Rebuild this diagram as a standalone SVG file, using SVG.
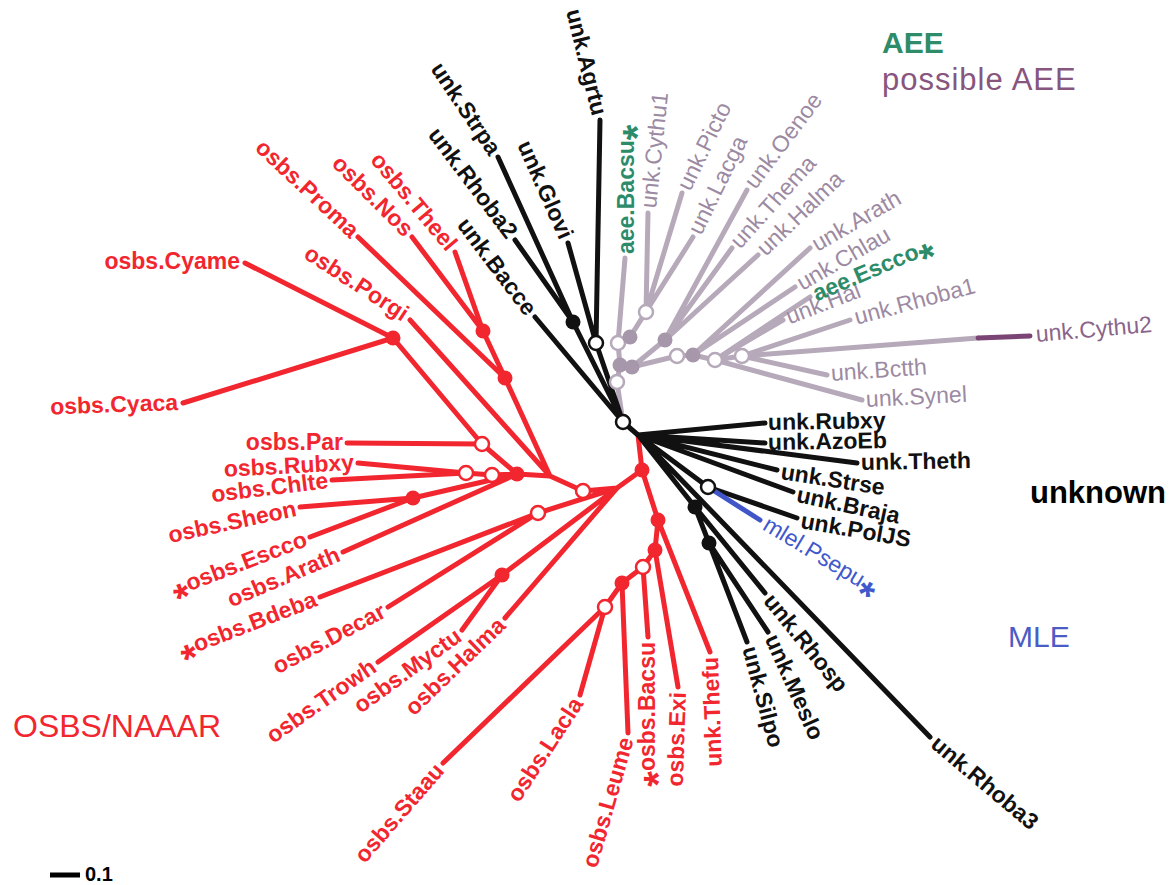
<svg xmlns="http://www.w3.org/2000/svg" width="1172" height="885" viewBox="0 0 1172 885">
<style>
text{font-family:"Liberation Sans",Arial,sans-serif;font-size:23px}
.lr{fill:#f2262f;font-weight:bold}
.lk{fill:#111;font-weight:bold}
.lg{fill:#9c8aa2}
.lgr{fill:#2c8c69;font-weight:bold}
.lb{fill:#4058cc}
.e{fill:none;stroke-width:5;stroke-linecap:round}
.r{stroke:#f2262f}
.k{stroke:#111}
.g{stroke:#b6a9ba}
.bl{stroke:#3f55c8}
.pu{stroke:#7a4474}
.fr{fill:#f2262f}
.fk{fill:#111}
.fg{fill:#a797aa}
.or{fill:#fff;stroke:#f2262f;stroke-width:2.5}
.ok{fill:#fff;stroke:#111;stroke-width:2.5}
.og{fill:#fff;stroke:#b6a9ba;stroke-width:2.5}
.ast{font-size:40px;font-weight:bold}
</style>
<rect width="1172" height="885" fill="#fff"/>
<g id="connectors">
<path class="e r" d="M638,435L642,470M642,470L658,520M658,520L710,652M658,520L655,550M655,550L678,687M655,550L643,567M643,567L648,637M643,567L622,583M622,583L628,733M622,583L605,607M605,607L580,695M605,607L443,763M642,470L617,488M617,488L583,491M583,491L550,476M550,476L410,320M550,476L505,378M505,378L483,331M483,331L412,237M483,331L455,252M505,378L358,237M550,476L517,474M517,474L482,444M482,444L347,443M482,444L393,338M393,338L245,263M393,338L183,403M517,474L492,475M492,475L466,473M466,473L358,463M466,473L332,480M517,474L413,498M413,498L300,507M413,498L310,537M517,474L343,552M617,488L538,513M538,513L320,597M538,513L388,607M617,488L502,575M502,575L378,662M502,575L462,630M617,488L505,618"/>
<path class="e g" d="M623,422L617,382M617,382L620,365M620,365L618,343M618,343L625,258M618,343L630,337M630,337L646,312M646,312L648,213M646,312L682,193M630,337L693,237M620,365L632,367M632,367L665,340M665,340L747,190M665,340L732,248M665,340L758,255M632,367L677,356M677,356L693,355M693,355L810,248M693,355L795,287M693,355L715,360M715,360L810,297M715,360L783,320M715,360L862,400M715,360L742,356M742,356L850,320M742,356L978,338M742,356L827,375"/>
<path class="e pu" d="M978,338L1030,336"/>
<path class="e k" d="M623,422L638,435M623,422L573,322M573,322L498,157M573,322L515,240M623,422L596,343M596,343L568,243M596,343L600,120M623,422L535,317M638,435L765,423M638,435L765,443M638,435L857,463M638,435L777,470M638,435L793,492M638,435L708,487M708,487L797,518M638,435L695,507M695,507L765,593M695,507L709,543M709,543L768,632M709,543L747,642M638,435L930,737"/>
<path class="e bl" d="M708,487L760,520"/>
</g>
<g id="internal-nodes">
<g id="n-E"><circle class="fr" cx="642" cy="470" r="7.5"/></g>
<g id="n-F"><circle class="fr" cx="658" cy="520" r="7.5"/></g>
<g id="n-G"><circle class="fr" cx="655" cy="550" r="7.5"/></g>
<g id="n-H"><circle class="or" cx="643" cy="567" r="7"/></g>
<g id="n-I"><circle class="fr" cx="622" cy="583" r="7.5"/></g>
<g id="n-J"><circle class="or" cx="605" cy="607" r="7"/></g>
<g id="n-C"><circle class="or" cx="583" cy="491" r="7"/></g>
<g id="n-A"><circle class="fr" cx="517" cy="474" r="7.5"/></g>
<g id="n-P"><circle class="or" cx="482" cy="444" r="7"/></g>
<g id="n-CY"><circle class="fr" cx="393" cy="338" r="7.5"/></g>
<g id="n-R1"><circle class="or" cx="466" cy="473" r="7"/></g>
<g id="n-R2"><circle class="or" cx="492" cy="475" r="7"/></g>
<g id="n-S"><circle class="fr" cx="413" cy="498" r="7.5"/></g>
<g id="n-N1"><circle class="fr" cx="483" cy="331" r="7.5"/></g>
<g id="n-N2"><circle class="fr" cx="505" cy="378" r="7.5"/></g>
<g id="n-K"><circle class="or" cx="538" cy="513" r="7"/></g>
<g id="n-M"><circle class="fr" cx="502" cy="575" r="7.5"/></g>
<g id="n-Oc"><circle class="ok" cx="623" cy="422" r="7"/></g>
<g id="n-O1"><circle class="ok" cx="596" cy="343" r="7"/></g>
<g id="n-O"><circle class="ok" cx="708" cy="487" r="7"/></g>
<g id="n-F1"><circle class="fk" cx="573" cy="322" r="7.5"/></g>
<g id="n-Fa"><circle class="fk" cx="695" cy="507" r="7.5"/></g>
<g id="n-Fb"><circle class="fk" cx="709" cy="543" r="7.5"/></g>
<g id="n-GR"><circle class="og" cx="617" cy="382" r="7"/></g>
<g id="n-G3"><circle class="og" cx="618" cy="343" r="7"/></g>
<g id="n-G1"><circle class="og" cx="646" cy="312" r="7"/></g>
<g id="n-G5"><circle class="og" cx="677" cy="356" r="7"/></g>
<g id="n-G7"><circle class="og" cx="715" cy="360" r="7"/></g>
<g id="n-G8"><circle class="og" cx="742" cy="356" r="7"/></g>
<g id="n-C1"><circle class="fg" cx="620" cy="365" r="7.5"/></g>
<g id="n-C2"><circle class="fg" cx="632" cy="367" r="7.5"/></g>
<g id="n-G2"><circle class="fg" cx="630" cy="337" r="7.5"/></g>
<g id="n-G4"><circle class="fg" cx="665" cy="340" r="7.5"/></g>
<g id="n-G6"><circle class="fg" cx="693" cy="355" r="7.5"/></g>
</g>
<g id="leaves" text-anchor="end">
<g id="osbs-Cyame"><text class="lr" transform="translate(240,262)" y="7">osbs.Cyame</text></g>
<g id="osbs-Cyaca"><text class="lr" transform="translate(178,403) rotate(-2)" y="7">osbs.Cyaca</text></g>
<g id="osbs-Par"><text class="lr" transform="translate(343,443)" y="7">osbs.Par</text></g>
<g id="osbs-Rubxy"><text class="lr" transform="translate(354,463) rotate(-3)" y="7">osbs.Rubxy</text></g>
<g id="osbs-Chlte"><text class="lr" transform="translate(328,481) rotate(-7)" y="7">osbs.Chlte</text></g>
<g id="osbs-Sheon"><text class="lr" transform="translate(296,509) rotate(-12)" y="7">osbs.Sheon</text></g>
<g id="osbs-Escco"><text class="lr" transform="translate(306,539) rotate(-21)" y="7"><tspan class="ast" dy="17">*</tspan><tspan dy="-17">osbs.Escco</tspan></text></g>
<g id="osbs-Arath"><text class="lr" transform="translate(339,554) rotate(-23)" y="7">osbs.Arath</text></g>
<g id="osbs-Bdeba"><text class="lr" transform="translate(316,599) rotate(-21)" y="7"><tspan class="ast" dy="17">*</tspan><tspan dy="-17">osbs.Bdeba</tspan></text></g>
<g id="osbs-Decar"><text class="lr" transform="translate(384,610) rotate(-28)" y="7">osbs.Decar</text></g>
<g id="osbs-Trowh"><text class="lr" transform="translate(374,665) rotate(-35)" y="7">osbs.Trowh</text></g>
<g id="osbs-Myctu"><text class="lr" transform="translate(459,634) rotate(-36)" y="7">osbs.Myctu</text></g>
<g id="osbs-Halma"><text class="lr" transform="translate(502,622) rotate(-44)" y="7">osbs.Halma</text></g>
<g id="osbs-Staau"><text class="lr" transform="translate(440,767) rotate(-49)" y="7">osbs.Staau</text></g>
<g id="osbs-Lacla"><text class="lr" transform="translate(578,700) rotate(-57)" y="7">osbs.Lacla</text></g>
<g id="osbs-Leume"><text class="lr" transform="translate(627,738) rotate(-74)" y="7">osbs.Leume</text></g>
<g id="osbs-Bacsu"><text class="lr" transform="translate(648,642) rotate(-90)" y="7"><tspan class="ast" dy="17">*</tspan><tspan dy="-17">osbs.Bacsu</tspan></text></g>
<g id="osbs-Exi"><text class="lr" transform="translate(679,692) rotate(-88)" y="7">osbs.Exi</text></g>
<g id="unk-Thefu"><text class="lr" transform="translate(711,657) rotate(-92)" y="7">unk.Thefu</text></g>
<g id="osbs-Proma"><text class="lr" transform="translate(355,234) rotate(43)" y="7">osbs.Proma</text></g>
<g id="osbs-Nos"><text class="lr" transform="translate(409,233) rotate(45)" y="7">osbs.Nos</text></g>
<g id="osbs-Theel"><text class="lr" transform="translate(452,248) rotate(50)" y="7">osbs.Theel</text></g>
<g id="osbs-Porgi"><text class="lr" transform="translate(406,316) rotate(33)" y="7">osbs.Porgi</text></g>
<g id="unk-Agrtu"><text class="lk" transform="translate(599,115) rotate(76)" y="7">unk.Agrtu</text></g>
<g id="unk-Strpa"><text class="lk" transform="translate(495,153) rotate(56)" y="7">unk.Strpa</text></g>
<g id="unk-Rhoba2"><text class="lk" transform="translate(512,236) rotate(53)" y="7">unk.Rhoba2</text></g>
<g id="unk-Glovi"><text class="lk" transform="translate(566,238) rotate(66)" y="7">unk.Glovi</text></g>
<g id="unk-Bacce"><text class="lk" transform="translate(531,313) rotate(53)" y="7">unk.Bacce</text></g>
</g>
<g id="leaves-right" text-anchor="start">
<g id="unk-Rubxy"><text class="lk" transform="translate(768,423) rotate(-1)" y="7">unk.Rubxy</text></g>
<g id="unk-AzoEb"><text class="lk" transform="translate(768,443) rotate(-1)" y="7">unk.AzoEb</text></g>
<g id="unk-Theth"><text class="lk" transform="translate(861,463) rotate(-1)" y="7">unk.Theth</text></g>
<g id="unk-Strse"><text class="lk" transform="translate(781,472) rotate(9)" y="7">unk.Strse</text></g>
<g id="unk-Braja"><text class="lk" transform="translate(797,495) rotate(12)" y="7">unk.Braja</text></g>
<g id="unk-PolJS"><text class="lk" transform="translate(801,521) rotate(10)" y="7">unk.PolJS</text></g>
<g id="mlel-Psepu"><text class="lb" transform="translate(765,523) rotate(31)" y="7">mlel.Psepu<tspan class="ast" dy="17">*</tspan></text></g>
<g id="unk-Rhosp"><text class="lk" transform="translate(768,597) rotate(51)" y="7">unk.Rhosp</text></g>
<g id="unk-Meslo"><text class="lk" transform="translate(771,636) rotate(66)" y="7">unk.Meslo</text></g>
<g id="unk-Silpo"><text class="lk" transform="translate(749,647) rotate(75)" y="7">unk.Silpo</text></g>
<g id="unk-Rhoba3"><text class="lk" transform="translate(934,741) rotate(40)" y="7">unk.Rhoba3</text></g>
<g id="unk-Synel"><text class="lg" transform="translate(866,400) rotate(-3)" y="7">unk.Synel</text></g>
<g id="unk-Bctth"><text class="lg" transform="translate(831,374) rotate(-4)" y="7">unk.Bctth</text></g>
<g id="unk-Cythu2"><text class="lg" transform="translate(1036,335) rotate(-5)" y="7" style="fill:#8a648a">unk.Cythu2</text></g>
<g id="unk-Rhoba1"><text class="lg" transform="translate(855,318) rotate(-15)" y="7">unk.Rhoba1</text></g>
<g id="unk-Hal"><text class="lg" transform="translate(787,318) rotate(-21)" y="7">unk.Hal</text></g>
<g id="aee-Escco"><text class="lgr" transform="translate(814,295) rotate(-23)" y="7">aee.Escco<tspan class="ast" dy="17">*</tspan></text></g>
<g id="unk-Chlau"><text class="lg" transform="translate(799,285) rotate(-30)" y="7">unk.Chlau</text></g>
<g id="unk-Arath"><text class="lg" transform="translate(814,246) rotate(-30)" y="7">unk.Arath</text></g>
<g id="unk-Halma"><text class="lg" transform="translate(761,252) rotate(-44)" y="7">unk.Halma</text></g>
<g id="unk-Thema"><text class="lg" transform="translate(735,245) rotate(-48)" y="7">unk.Thema</text></g>
<g id="unk-Oenoe"><text class="lg" transform="translate(750,186) rotate(-53)" y="7">unk.Oenoe</text></g>
<g id="unk-Lacga"><text class="lg" transform="translate(695,233) rotate(-64)" y="7">unk.Lacga</text></g>
<g id="unk-Picto"><text class="lg" transform="translate(684,189) rotate(-64)" y="7">unk.Picto</text></g>
<g id="unk-Cythu1"><text class="lg" transform="translate(649,208) rotate(-84)" y="7">unk.Cythu1</text></g>
<g id="aee-Bacsu"><text class="lgr" transform="translate(627,254) rotate(-90)" y="7">aee.Bacsu<tspan class="ast" dy="17">*</tspan></text></g>
</g>
<g id="legend">
<text x="882" y="53" style="font-size:30px;font-weight:bold;fill:#2f8c68">AEE</text>
<text x="882" y="90" style="font-size:31px;fill:#87557e;letter-spacing:1px">possible AEE</text>
<text x="1030" y="503" style="font-size:31px;font-weight:bold;fill:#000">unknown</text>
<text x="1008" y="647" style="font-size:30px;fill:#4b5cc4">MLE</text>
<text x="13" y="737" style="font-size:32px;fill:#f2262f">OSBS/NAAAR</text>
</g>
<g id="scale-bar">
<path d="M50,875H80" stroke="#000" stroke-width="5"/>
<text x="85" y="881" style="font-size:20px;font-weight:bold;fill:#000">0.1</text>
</g>
</svg>
